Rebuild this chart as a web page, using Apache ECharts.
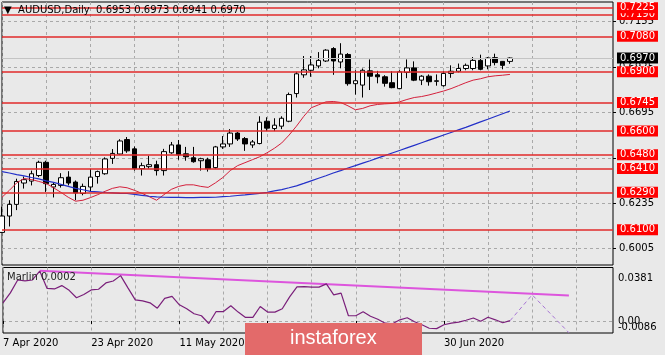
<!DOCTYPE html>
<html>
<head>
<meta charset="utf-8">
<script src="https://cdn.jsdelivr.net/npm/echarts@6/dist/echarts.min.js"></script>
<style>
html, body { margin: 0; padding: 0; background: #e9e9e9; }
#chart { width: 665px; height: 355px; }
</style>
</head>
<body>
<div id="chart"></div>
<script>
// trading days, then empty future slots on the right
var dates = [
    '7 Apr 2020','8 Apr 2020','9 Apr 2020','10 Apr 2020','13 Apr 2020','14 Apr 2020','15 Apr 2020','16 Apr 2020','17 Apr 2020','20 Apr 2020',
    '21 Apr 2020','22 Apr 2020','23 Apr 2020','24 Apr 2020','27 Apr 2020','28 Apr 2020','29 Apr 2020','30 Apr 2020','1 May 2020','4 May 2020',
    '5 May 2020','6 May 2020','7 May 2020','8 May 2020','11 May 2020','12 May 2020','13 May 2020','14 May 2020','15 May 2020','18 May 2020',
    '19 May 2020','20 May 2020','21 May 2020','22 May 2020','25 May 2020','26 May 2020','27 May 2020','28 May 2020','29 May 2020','1 Jun 2020',
    '2 Jun 2020','3 Jun 2020','4 Jun 2020','5 Jun 2020','8 Jun 2020','9 Jun 2020','10 Jun 2020','11 Jun 2020','12 Jun 2020','15 Jun 2020',
    '16 Jun 2020','17 Jun 2020','18 Jun 2020','19 Jun 2020','22 Jun 2020','23 Jun 2020','24 Jun 2020','25 Jun 2020','26 Jun 2020','29 Jun 2020',
    '30 Jun 2020','1 Jul 2020','2 Jul 2020','3 Jul 2020','6 Jul 2020','7 Jul 2020','8 Jul 2020','9 Jul 2020','10 Jul 2020','13 Jul 2020',
    '14 Jul 2020','15 Jul 2020','16 Jul 2020','17 Jul 2020','20 Jul 2020','21 Jul 2020','22 Jul 2020','23 Jul 2020','24 Jul 2020','27 Jul 2020',
    '28 Jul 2020','29 Jul 2020','30 Jul 2020','31 Jul 2020'
];
var barCount = 70;

// [open, close, low, high]
var candles = [
    [0.6087,0.6170,0.6085,0.6217],[0.6170,0.6229,0.6117,0.6250],[0.6229,0.6345,0.6200,0.6359],[0.6337,0.6354,0.6309,0.6370],
    [0.6347,0.6384,0.6325,0.6400],[0.6375,0.6442,0.6367,0.6450],[0.6442,0.6334,0.6292,0.6450],[0.6317,0.6330,0.6264,0.6342],
    [0.6325,0.6364,0.6314,0.6387],[0.6367,0.6337,0.6325,0.6397],[0.6342,0.6287,0.6250,0.6350],[0.6284,0.6320,0.6275,0.6334],
    [0.6317,0.6367,0.6292,0.6409],[0.6370,0.6395,0.6334,0.6400],[0.6384,0.6459,0.6379,0.6467],[0.6462,0.6487,0.6434,0.6509],
    [0.6484,0.6550,0.6480,0.6559],[0.6557,0.6500,0.6490,0.6570],[0.6510,0.6410,0.6400,0.6522],[0.6410,0.6425,0.6375,0.6440],
    [0.6420,0.6430,0.6410,0.6475],[0.6430,0.6400,0.6375,0.6450],[0.6400,0.6496,0.6375,0.6510],[0.6490,0.6530,0.6485,0.6545],
    [0.6530,0.6480,0.6455,0.6555],[0.6485,0.6470,0.6450,0.6520],[0.6465,0.6445,0.6440,0.6520],[0.6450,0.6460,0.6400,0.6465],
    [0.6455,0.6410,0.6395,0.6465],[0.6415,0.6520,0.6410,0.6525],[0.6520,0.6535,0.6510,0.6575],[0.6535,0.6590,0.6520,0.6610],
    [0.6590,0.6560,0.6550,0.6595],[0.6562,0.6535,0.6500,0.6570],[0.6530,0.6545,0.6515,0.6555],[0.6537,0.6645,0.6533,0.6675],
    [0.6650,0.6615,0.6600,0.6670],[0.6613,0.6630,0.6600,0.6665],[0.6625,0.6665,0.6610,0.6675],[0.6650,0.6785,0.6645,0.6795],
    [0.6790,0.6890,0.6770,0.6900],[0.6885,0.6910,0.6870,0.6980],[0.6908,0.6935,0.6875,0.6980],[0.6930,0.6958,0.6918,0.7000],
    [0.6955,0.7010,0.6950,0.7015],[0.7018,0.6955,0.6885,0.7025],[0.6950,0.6990,0.6918,0.7045],[0.6988,0.6840,0.6830,0.6995],
    [0.6840,0.6855,0.6785,0.6908],[0.6833,0.6908,0.6770,0.6917],[0.6905,0.6878,0.6808,0.6963],[0.6885,0.6875,0.6842,0.6905],
    [0.6875,0.6842,0.6825,0.6883],[0.6845,0.6820,0.6817,0.6903],[0.6815,0.6900,0.6812,0.6908],[0.6897,0.6920,0.6868,0.6963],
    [0.6920,0.6858,0.6853,0.6953],[0.6858,0.6878,0.6833,0.6883],[0.6878,0.6850,0.6830,0.6887],[0.6852,0.6855,0.6830,0.6887],
    [0.6830,0.6892,0.6825,0.6903],[0.6892,0.6903,0.6870,0.6933],[0.6903,0.6917,0.6897,0.6942],[0.6917,0.6933,0.6908,0.6942],
    [0.6917,0.6958,0.6908,0.6975],[0.6958,0.6913,0.6908,0.6987],[0.6930,0.6970,0.6913,0.6975],[0.6972,0.6947,0.6933,0.6992],
    [0.6953,0.6933,0.6913,0.6955],[0.6953,0.6970,0.6941,0.6973]
];

var maFast = [
    0.6265,0.6300,0.6338,0.6360,0.6355,0.6345,0.6335,0.6313,0.6290,0.6265,
    0.6245,0.6250,0.6263,0.6278,0.6295,0.6310,0.6318,0.6313,0.6300,0.6285,
    0.6268,0.6250,0.6278,0.6305,0.6320,0.6328,0.6328,0.6320,0.6315,0.6338,
    0.6365,0.6400,0.6425,0.6440,0.6455,0.6470,0.6490,0.6513,0.6540,0.6580,
    0.6625,0.6675,0.6718,0.6733,0.6748,0.6750,0.6745,0.6728,0.6708,0.6715,
    0.6728,0.6735,0.6738,0.6740,0.6748,0.6760,0.6770,0.6775,0.6783,0.6793,
    0.6803,0.6815,0.6830,0.6845,0.6858,0.6865,0.6875,0.6880,0.6883,0.6887
];

var maSlow = [
    0.6395,0.6388,0.6380,0.6373,0.6365,0.6358,0.6348,0.6340,0.6330,0.6320,
    0.6310,0.6303,0.6295,0.6292,0.6289,0.6287,0.6285,0.6284,0.6280,0.6275,
    0.6270,0.6267,0.6265,0.6264,0.6264,0.6263,0.6263,0.6264,0.6264,0.6265,
    0.6268,0.6270,0.6274,0.6277,0.6281,0.6285,0.6290,0.6297,0.6304,0.6313,
    0.6323,0.6335,0.6348,0.6361,0.6374,0.6388,0.6400,0.6413,0.6425,0.6438,
    0.6450,0.6463,0.6476,0.6489,0.6502,0.6515,0.6528,0.6541,0.6554,0.6567,
    0.6580,0.6593,0.6606,0.6619,0.6633,0.6647,0.6660,0.6674,0.6688,0.6702
];

var marlin = [
    0.0129,0.0200,0.0292,0.0285,0.0292,0.0356,0.0232,0.0228,0.0252,0.0218,
    0.0165,0.0189,0.0221,0.0226,0.0271,0.0285,0.0323,0.0236,0.0150,0.0143,
    0.0129,0.0091,0.0161,0.0175,0.0115,0.0087,0.0051,0.0037,-0.0018,0.0067,
    0.0067,0.0108,0.0063,0.0025,0.0025,0.0103,0.0063,0.0063,0.0087,0.0172,
    0.0243,0.0245,0.0241,0.0241,0.0264,0.0186,0.0198,0.0037,0.0037,0.0065,
    0.0033,0.0012,-0.0016,-0.0020,0.0008,0.0023,-0.0006,-0.0027,-0.0052,-0.0055,
    -0.0027,-0.0016,-0.0009,0.0005,0.0021,-0.0002,0.0026,0.0008,-0.0013,0.0002
];
// hand drawn objects on the indicator window: [bar index, value]
var marlinForecast = [[69, 0.0002], [72, 0.0186], [77, -0.0084]];
var marlinTrend = [[5, 0.0358], [77, 0.0181]];

var levels = [0.6100, 0.6290, 0.6410, 0.6480, 0.6600, 0.6745, 0.6900, 0.7080, 0.7190, 0.7225];
var lastPrice = 0.6970;
var priceTicks = [0.6005, 0.6235, 0.6465, 0.6695, 0.6925, 0.7155];
var marlinRange = [-0.0086, 0.0381];
var marlinLevel = [0];

var font = 'DejaVu Sans';
var gridColor = '#a9a9a9';

function everyBars(n) {
    return function (idx) { return idx % n === 0; };
}
function dateTick(idx) {
    return idx % 12 === 0 && idx < barCount;
}

var chart = echarts.init(document.getElementById('chart'), null, {renderer: 'canvas'});

var option = {
    backgroundColor: '#e9e9e9',
    animation: false,
    textStyle: {fontFamily: font},
    title: [
        {
            text: '\u25BC  AUDUSD,Daily  0.6953 0.6973 0.6941 0.6970',
            left: 4, top: 5, padding: 0,
            textStyle: {fontSize: 10, fontWeight: 'normal', color: '#000', fontFamily: font}
        },
        {
            text: 'Marlin 0.0002',
            left: 7, top: 272, padding: 0,
            textStyle: {fontSize: 10, fontWeight: 'normal', color: '#222', fontFamily: font}
        }
    ],
    grid: [
        {left: 2, right: 52, top: 2, bottom: 90, show: true, borderColor: '#000', borderWidth: 1, backgroundColor: 'transparent'},
        {left: 2, right: 52, top: 267.5, bottom: 22, show: true, borderColor: '#000', borderWidth: 1, backgroundColor: 'transparent'}
    ],
    xAxis: [
        {
            type: 'category', gridIndex: 0, data: dates, boundaryGap: false,
            axisLine: {show: false}, axisTick: {show: false}, axisLabel: {show: false},
            splitLine: {show: true, interval: everyBars(6), lineStyle: {color: gridColor, type: [3, 3]}}
        },
        {
            type: 'category', gridIndex: 1, data: dates, boundaryGap: false,
            axisLine: {show: false},
            axisTick: {show: true, interval: dateTick, length: 3, lineStyle: {color: '#000'}},
            axisLabel: {interval: dateTick, align: 'left', margin: 5, fontSize: 10, color: '#000', fontFamily: font},
            splitLine: {show: true, interval: everyBars(6), lineStyle: {color: gridColor, type: [3, 3]}}
        }
    ],
    yAxis: [
        {
            type: 'value', gridIndex: 0, position: 'right', min: 0.5922, max: 0.72537,
            axisLine: {show: false},
            axisTick: {show: true, length: 3, customValues: priceTicks, lineStyle: {color: '#000'}},
            axisLabel: {
                customValues: priceTicks, margin: 6, fontSize: 10, color: '#000', fontFamily: font,
                formatter: function (v) { return v.toFixed(4); }
            },
            splitLine: {show: true, lineStyle: {color: gridColor, type: [3, 3]}}
        },
        {
            // indicator window: min / max labels
            type: 'value', gridIndex: 1, position: 'right', min: marlinRange[0], max: marlinRange[1],
            axisLine: {show: false},
            axisTick: {show: false, customValues: marlinLevel},
            axisLabel: {
                customValues: marlinRange, margin: 5, fontSize: 10, color: '#000', fontFamily: font,
                showMinLabel: true, showMaxLabel: true,
                formatter: function (v) {
                    return (v > 0 ? '{top|' : '{bot|') + v.toFixed(4) + '}';
                },
                rich: {
                    top: {padding: [21, 0, 0, 0], fontSize: 10, fontFamily: font},
                    bot: {padding: [0, 0, 11, 0], fontSize: 10, fontFamily: font}
                }
            },
            splitLine: {show: true, lineStyle: {color: gridColor, type: [3, 3]}}
        },
        {
            // indicator window: zero level label
            type: 'value', gridIndex: 1, position: 'right', min: marlinRange[0], max: marlinRange[1],
            axisLine: {show: false},
            axisTick: {show: false, customValues: marlinLevel},
            axisLabel: {
                customValues: marlinLevel, margin: 5, fontSize: 10, color: '#000', fontFamily: font,
                formatter: function () { return '0.00'; }
            },
            splitLine: {show: false}
        }
    ],
    series: [
        {
            type: 'candlestick', xAxisIndex: 0, yAxisIndex: 0,
            data: candles, barWidth: 5,
            itemStyle: {color: '#fff', color0: '#000', borderColor: '#000', borderColor0: '#000', borderWidth: 1},
            markLine: {
                symbol: ['none', 'none'], silent: true, animation: false, precision: 4,
                lineStyle: {color: '#e02a2a', width: 1.5, type: 'solid'},
                label: {
                    position: 'end', distance: 4, color: '#fff', backgroundColor: '#ff0000',
                    padding: [1, 3, 0, 3], fontSize: 10, fontFamily: font,
                    formatter: function (p) { return Number(p.value).toFixed(4); }
                },
                emphasis: {disabled: true},
                data: levels.map(function (v) { return {yAxis: v}; }).concat([
                    {yAxis: lastPrice, lineStyle: {color: '#c4c4c4', width: 1}, label: {backgroundColor: '#000'}}
                ])
            }
        },
        {
            type: 'line', xAxisIndex: 0, yAxisIndex: 0, data: maFast,
            symbol: 'none', lineStyle: {color: '#d4203c', width: 1}
        },
        {
            type: 'line', xAxisIndex: 0, yAxisIndex: 0, data: maSlow,
            symbol: 'none', lineStyle: {color: '#2330c8', width: 1.2}
        },
        {
            type: 'line', xAxisIndex: 1, yAxisIndex: 1, data: marlinTrend,
            symbol: 'none', lineStyle: {color: '#dd55dd', width: 2}
        },
        {
            type: 'line', xAxisIndex: 1, yAxisIndex: 1, data: marlin,
            symbol: 'none', lineStyle: {color: '#7a1f7a', width: 1.2}
        },
        {
            type: 'line', xAxisIndex: 1, yAxisIndex: 1, data: marlinForecast,
            symbol: 'none', lineStyle: {color: '#a774d4', width: 1, type: [4, 3]}
        }
    ],
    graphic: [
        {
            type: 'rect', left: 245, top: 323, z: 100,
            shape: {width: 177, height: 32},
            style: {fill: '#e36a6a'}
        },
        {
            type: 'text', left: 290, top: 328, z: 101,
            style: {text: 'instaforex', fill: '#fff', font: '20px "Liberation Sans"'}
        }
    ]
};

chart.setOption(option);
</script>
</body>
</html>
